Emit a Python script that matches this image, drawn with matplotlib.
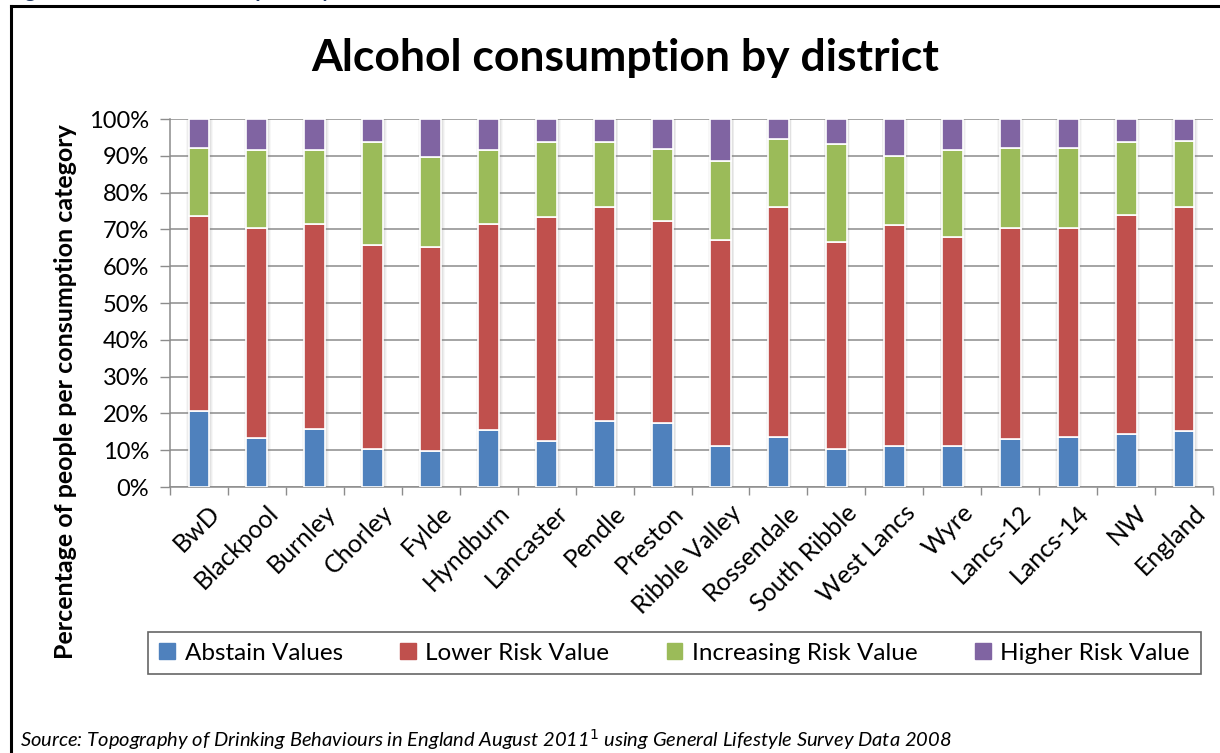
import matplotlib
matplotlib.use("Agg")
import matplotlib.pyplot as plt
from matplotlib.lines import Line2D
from matplotlib.patches import Rectangle
import matplotlib.transforms as mtransforms
import numpy as np

plt.rcParams['font.family'] = ['Lato', 'DejaVu Sans']

districts = ["BwD", "Blackpool", "Burnley", "Chorley", "Fylde", "Hyndburn", "Lancaster",
             "Pendle", "Preston", "Ribble Valley", "Rossendale", "South Ribble", "West Lancs",
             "Wyre", "Lancs-12", "Lancs-14", "NW", "England"]
abstain = [20.6, 13.3, 15.7, 10.3, 9.7, 15.4, 12.4, 17.9, 17.5, 11.2, 13.6, 10.3, 11.2, 11.2, 13.0, 13.6, 14.3, 15.1]
lower = [53.1, 57.2, 55.9, 55.4, 55.4, 56.0, 61.0, 58.3, 54.8, 55.9, 62.6, 56.3, 60.0, 56.8, 57.5, 56.9, 59.6, 61.1]
increasing = [18.5, 21.1, 20.0, 28.0, 24.6, 20.2, 20.3, 17.5, 19.5, 21.6, 18.4, 26.6, 18.8, 23.6, 21.5, 21.5, 19.8, 17.9]
higher = [7.8, 8.4, 8.4, 6.3, 10.3, 8.4, 6.3, 6.3, 8.2, 11.3, 5.4, 6.8, 10.0, 8.4, 8.0, 8.0, 6.3, 5.9]

series_names = ["Abstain Values", "Lower Risk Value", "Increasing Risk Value", "Higher Risk Value"]
series_colors = ["#4F81BD", "#C0504D", "#9BBB59", "#8064A2"]
y_ticks = [0, 10, 20, 30, 40, 50, 60, 70, 80, 90, 100]
y_tick_labels = [f"{v}%" for v in y_ticks]

W, H = 1220, 753
fig = plt.figure(figsize=(W / 100, H / 100), dpi=100)
ax = fig.add_axes([170 / W, 1 - 487 / H, (1213 - 170) / W, (487 - 119) / H])

x = np.arange(len(districts))
bw = 0.36
series = [abstain, lower, increasing, higher]
bottom = np.zeros(len(districts))
totals = np.sum(series, axis=0)
# soft shadow behind bars
for off, a in [(0.10, 0.06), (0.07, 0.08), (0.04, 0.10)]:
    ax.bar(x + 0.01, totals, width=bw + off, bottom=0, color="#7f7f7f", alpha=a,
           linewidth=0, zorder=2)
for vals, name, col in zip(series, series_names, series_colors):
    ax.bar(x, vals, width=bw, bottom=bottom, color=col, edgecolor="white",
           linewidth=1.2, label=name, zorder=3)
    bottom += np.array(vals)

ax.set_xlim(-0.5, len(districts) - 0.5)
ax.set_ylim(0, 100)
ax.set_yticks(y_ticks)
ax.set_yticklabels(y_tick_labels, fontsize=17)
ax.yaxis.grid(True, color="#8c8c8c", linewidth=1.1, zorder=0)
ax.set_axisbelow(True)
ax.tick_params(axis='y', length=7, color="#8c8c8c", width=1, pad=8)

ax.set_xticks(x)
ax.set_xticklabels(districts, rotation=45, ha='right', rotation_mode='anchor', fontsize=18)
ax.tick_params(axis='x', which='major', length=0, pad=10)
shift = mtransforms.ScaledTranslation(9 / 100, 0, fig.dpi_scale_trans)
for lbl in ax.get_xticklabels():
    lbl.set_transform(lbl.get_transform() + shift)
ax.set_xticks(np.arange(-0.5, len(districts) + 0.5, 1), minor=True)
ax.tick_params(axis='x', which='minor', length=6, color="#8c8c8c", width=1)

for s in ["top", "right"]:
    ax.spines[s].set_visible(False)
for s in ["left", "bottom"]:
    ax.spines[s].set_color("#8c8c8c")
    ax.spines[s].set_linewidth(1.1)

fig.text(625 / W, 1 - 58 / H, "Alcohol consumption by district", ha='center', va='center',
         fontsize=32, fontweight='bold')
fig.text(66 / W, 1 - 392 / H, "Percentage of people per consumption category", rotation=90,
         ha='center', va='center', fontsize=18, fontweight='bold')

# legend
leg = fig.legend(handles=[Rectangle((0, 0), 1, 1, color=c) for c in series_colors],
                 labels=series_names, loc='center',
                 bbox_to_anchor=((148 + 1201) / 2 / W, 1 - 653 / H), ncol=4, fontsize=17.5,
                 frameon=True, fancybox=False, handlelength=0.65, handleheight=0.65,
                 handletextpad=0.4, columnspacing=2.35, borderpad=0.45, borderaxespad=0)
leg.get_frame().set_edgecolor("#404040")
leg.get_frame().set_linewidth(1.2)

fig.text(20 / W, 1 - 740 / H,
         "Source: Topography of Drinking Behaviours in England August 2011$^{1}$ using General Lifestyle Survey Data 2008",
         ha='left', va='center', fontsize=14.5, style='italic')

# partially visible heading above (only descenders show, as in the reference)
fig.text(8 / W, 1 + 3 / H, "Figure 11: Alcohol consumption by district", ha='left',
         va='baseline', fontsize=15, fontweight='bold', color="#1F3864")

# outer border (left and top)
fig.add_artist(Line2D([11 / W, 11 / W], [0, 1 - 6 / H], color='black', linewidth=2.2,
                      transform=fig.transFigure))
fig.add_artist(Line2D([11 / W, 1], [1 - 6 / H, 1 - 6 / H], color='black', linewidth=2.2,
                      transform=fig.transFigure))

fig.savefig("out.png", dpi=100)
